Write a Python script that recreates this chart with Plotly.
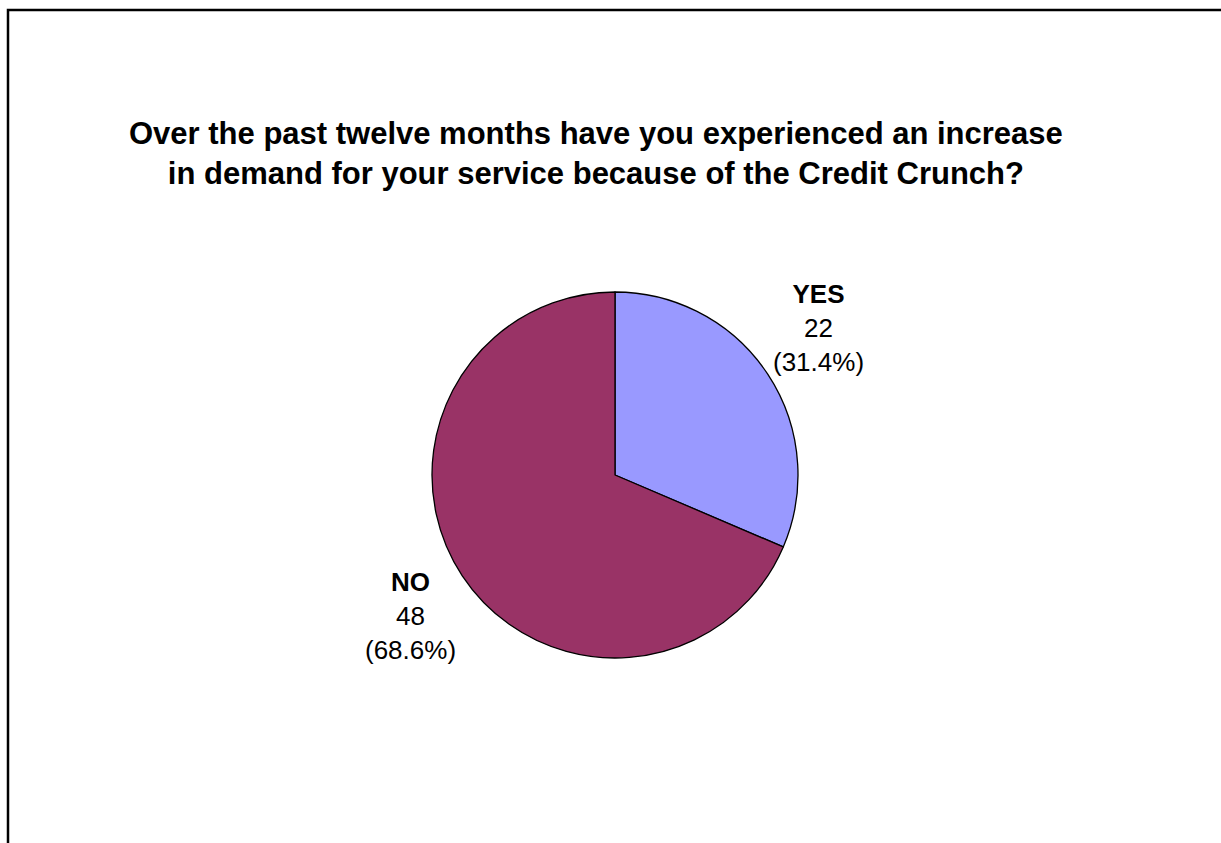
import plotly.graph_objects as go

# Survey responses
categories = ["YES", "NO"]
counts = [22, 48]
colors = ["#9999FF", "#993366"]

title_lines = [
    "Over the past twelve months have you experienced an increase",
    "in demand for your service because of the Credit Crunch?",
]

W, H = 1221, 843
total = sum(counts)

fig = go.Figure(
    go.Pie(
        labels=categories,
        values=counts,
        sort=False,
        direction="clockwise",
        rotation=0,
        marker=dict(colors=colors, line=dict(color="#000000", width=1.3)),
        textinfo="none",
        hoverinfo="label+value+percent",
        domain=dict(x=[432 / W, 798 / W], y=[1 - 658 / H, 1 - 292 / H]),
        showlegend=False,
    )
)

# Outside labels: name, count and share for each slice
label_pos = {"YES": (818, 328), "NO": (410, 616)}
annotations = []
for cat, n in zip(categories, counts):
    px, py = label_pos[cat]
    pct = 100 * n / total
    annotations.append(
        dict(
            x=px / W, y=1 - py / H, xref="paper", yref="paper",
            text=f"<b>{cat}</b><br>{n}<br>({pct:.1f}%)",
            showarrow=False, align="center",
            xanchor="center", yanchor="middle",
            font=dict(family="Liberation Sans, Arial", size=26, color="#000000"),
        )
    )

# Chart title
annotations.append(
    dict(
        x=596 / W, y=1 - 154 / H, xref="paper", yref="paper",
        text="<b>" + "<br>".join(title_lines) + "</b>",
        showarrow=False, align="center",
        xanchor="center", yanchor="middle",
        font=dict(family="Liberation Sans, Arial", size=31, color="#000000"),
    )
)

fig.update_layout(
    width=W, height=H,
    margin=dict(l=0, r=0, t=0, b=0),
    paper_bgcolor="#FFFFFF",
    plot_bgcolor="#FFFFFF",
    annotations=annotations,
    shapes=[
        # chart-area frame (runs past the right and bottom edges)
        dict(type="rect", xref="paper", yref="paper",
             x0=8 / W, x1=1.05, y0=-0.05, y1=1 - 10 / H,
             line=dict(color="#000000", width=2.5), fillcolor="rgba(0,0,0,0)"),
    ],
)

fig.write_html("out.html")
